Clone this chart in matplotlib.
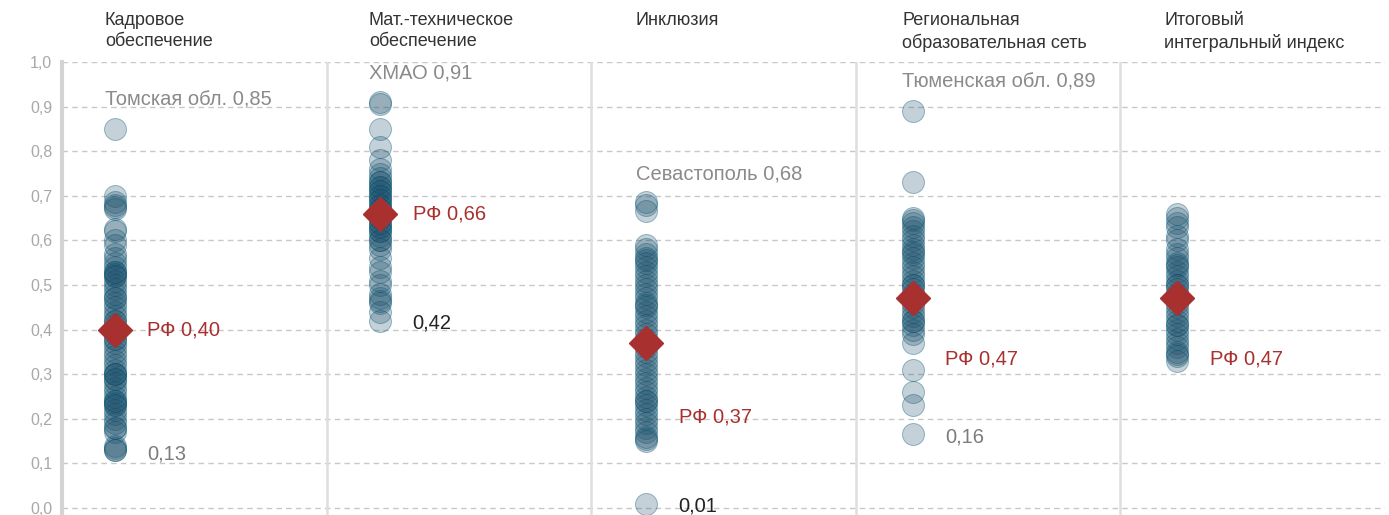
import numpy as np
import matplotlib
matplotlib.use("Agg")
import matplotlib.pyplot as plt

plt.rcParams['font.family'] = ['Liberation Sans', 'DejaVu Sans']

titles = ["Кадровое\nобеспечение", "Мат.-техническое\nобеспечение", "Инклюзия",
          "Региональная\nобразовательная сеть", "Итоговый\nинтегральный индекс"]

kadr = [0.85, 0.70, 0.685, 0.68, 0.675, 0.67, 0.625, 0.62, 0.60, 0.59, 0.57, 0.56, 0.55,
        0.54, 0.53, 0.53, 0.525, 0.52, 0.52, 0.51, 0.50, 0.49, 0.48, 0.47, 0.47, 0.46,
        0.45, 0.44, 0.43, 0.42, 0.42, 0.41, 0.40, 0.39, 0.38, 0.38, 0.37, 0.36, 0.35,
        0.34, 0.33, 0.32, 0.31, 0.30, 0.30, 0.30, 0.29, 0.29, 0.28, 0.27, 0.26, 0.25,
        0.24, 0.24, 0.235, 0.23, 0.23, 0.22, 0.21, 0.20, 0.19, 0.18, 0.18, 0.17, 0.14,
        0.135, 0.13, 0.13]
mat = [0.91, 0.905, 0.85, 0.81, 0.78, 0.76, 0.75, 0.74, 0.73, 0.73, 0.72, 0.72, 0.71,
       0.71, 0.70, 0.70, 0.69, 0.69, 0.68, 0.68, 0.67, 0.67, 0.66, 0.66, 0.65, 0.65,
       0.64, 0.64, 0.63, 0.63, 0.62, 0.62, 0.61, 0.60, 0.60, 0.59, 0.58, 0.56, 0.54,
       0.53, 0.51, 0.50, 0.48, 0.47, 0.465, 0.46, 0.44, 0.42]
incl = [0.685, 0.68, 0.665, 0.59, 0.58, 0.57, 0.56, 0.555, 0.55, 0.54, 0.53, 0.52, 0.51,
        0.50, 0.49, 0.48, 0.47, 0.46, 0.455, 0.45, 0.44, 0.43, 0.42, 0.41, 0.40, 0.39,
        0.38, 0.37, 0.36, 0.35, 0.34, 0.33, 0.32, 0.31, 0.30, 0.29, 0.28, 0.27, 0.26,
        0.25, 0.24, 0.24, 0.23, 0.22, 0.21, 0.20, 0.19, 0.18, 0.17, 0.16, 0.155, 0.15, 0.01]
reg = [0.89, 0.73, 0.65, 0.645, 0.64, 0.63, 0.62, 0.61, 0.60, 0.59, 0.58, 0.575, 0.57,
       0.56, 0.55, 0.54, 0.53, 0.52, 0.51, 0.50, 0.50, 0.49, 0.48, 0.47, 0.46, 0.45,
       0.44, 0.43, 0.42, 0.42, 0.41, 0.40, 0.39, 0.37, 0.31, 0.26, 0.23, 0.165]
itog = [0.66, 0.65, 0.64, 0.63, 0.61, 0.60, 0.58, 0.57, 0.56, 0.55, 0.545, 0.54, 0.53,
        0.52, 0.51, 0.50, 0.50, 0.49, 0.48, 0.47, 0.46, 0.45, 0.44, 0.43, 0.42, 0.41,
        0.41, 0.40, 0.39, 0.38, 0.37, 0.36, 0.35, 0.345, 0.34, 0.33]
columns = [kadr, mat, incl, reg, itog]

rf = [0.40, 0.66, 0.37, 0.47, 0.47]
rf_labels = ["РФ 0,40", "РФ 0,66", "РФ 0,37", "РФ 0,47", "РФ 0,47"]
top_labels = ["Томская обл. 0,85", "ХМАО 0,91", "Севастополь 0,68", "Тюменская обл. 0,89", None]
min_labels = ["0,13", "0,42", "0,01", "0,16", None]

# layout: dot column offset and text offset inside each panel, label heights
dot_off = [0.200, 0.202, 0.207, 0.216, 0.214]
text_off = [0.162, 0.160, 0.169, 0.175, 0.165]
rf_label_y = [0.40, 0.66, 0.205, 0.335, 0.333]
min_label_y = [0.12, 0.415, 0.005, 0.16]
min_label_col = ["#7c7c7c", "#222222", "#222222", "#7c7c7c"]

face = (0.11, 0.31, 0.42, 0.26)
edge = (0.0, 0.33, 0.45, 0.38)
red = "#a8302f"

fig = plt.figure(figsize=(13.89, 5.15), dpi=100)
ax = fig.add_axes([62 / 1389, 0, 1323 / 1389, 1 - 62 / 515])
ax.set_xlim(0, 5)
ax.set_ylim(-7 / 446, 1.0)

for y in np.arange(0, 1.01, 0.1):
    ax.axhline(y, color="#c8c8c8", lw=1, ls=(0, (4, 3)), zorder=0)
for i in range(1, 5):
    ax.axvline(i, color="#dedede", lw=1.8, zorder=1)

for i, vals in enumerate(columns):
    xc = i + dot_off[i]
    xt = xc + 0.123
    ax.scatter(np.full(len(vals), xc), vals, s=250, facecolors=[face], edgecolors=[edge],
               linewidths=0.7, zorder=2, clip_on=False)
    ax.plot(xc, rf[i], marker="D", ms=17, color=red, mec=red, zorder=4, clip_on=False)
    ax.text(xt, rf_label_y[i], rf_labels[i], color=red, fontsize=14.5,
            va="center", ha="left", zorder=5)
    if top_labels[i]:
        ax.text(i + text_off[i], max(vals) + 0.065, top_labels[i], color="#8a8a8a",
                fontsize=14.5, va="center", ha="left", zorder=5)
    if min_labels[i]:
        ax.text(xt, min_label_y[i], min_labels[i], color=min_label_col[i],
                fontsize=14.5, va="center", ha="left", zorder=5)
    ax.text(i + text_off[i], 1.112, titles[i], color="#333333", fontsize=13,
            va="top", ha="left", linespacing=1.33, clip_on=False)

ax.set_yticks(np.arange(0, 1.01, 0.1))
ax.set_yticklabels([f"{v:.1f}".replace(".", ",") for v in np.arange(0, 1.01, 0.1)])
ax.tick_params(axis="y", length=0, pad=7, labelsize=11.5, labelcolor="#a8a8a8")
ax.set_xticks([])
for s in ["top", "right", "bottom"]:
    ax.spines[s].set_visible(False)
ax.spines["left"].set_color("#d4d4d4")
ax.spines["left"].set_linewidth(3)

fig.savefig("out.png", dpi=100)
